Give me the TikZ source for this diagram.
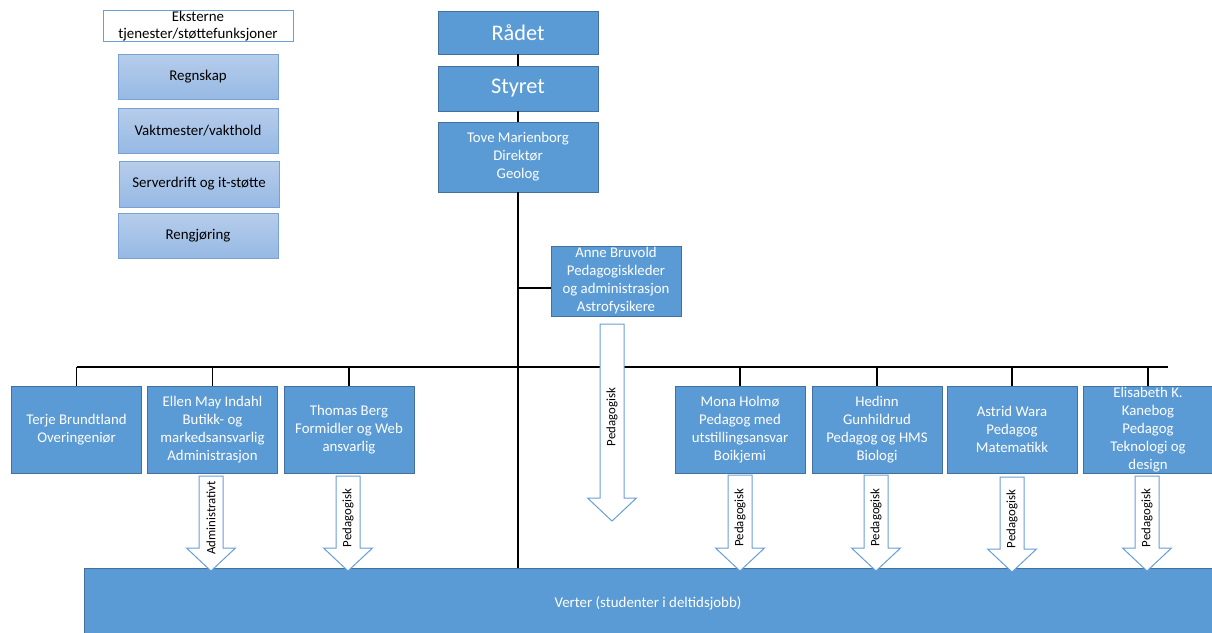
\documentclass[tikz,border=0pt]{standalone}
\usepackage{fontspec}
\setmainfont{Carlito}
\usetikzlibrary{calc}
\definecolor{boxblue}{RGB}{91,155,213}
\definecolor{boxedge}{RGB}{65,113,156}
\definecolor{lightedge}{RGB}{105,158,215}
\definecolor{gradtop}{RGB}{183,205,235}
\definecolor{gradbot}{RGB}{150,185,228}
\definecolor{gradedge}{RGB}{120,162,212}
\tikzset{
  orgbox/.style={draw=boxedge, fill=boxblue, line width=0.8, text=white, align=center,
    inner sep=0, font=\fontsize{14.8}{18}\selectfont},
  bigbox/.style={orgbox, minimum width=160, font=\fontsize{22.3}{26}\selectfont},
  staffbox/.style={orgbox, minimum width=129.5, minimum height=87},
  extbox/.style={draw=gradedge, line width=0.8, top color=gradtop, bottom color=gradbot,
    minimum width=160, minimum height=45, inner sep=0, align=center,
    font=\fontsize{14.9}{18}\selectfont},
  headbox/.style={draw=lightedge, line width=0.8, fill=white, minimum width=190,
    minimum height=30, inner sep=0, align=center, font=\fontsize{14.9}{17.5}\selectfont},
  link/.style={draw=black, line width=1.6},
  blockarrow/.style={draw=lightedge, fill=white, line width=1},
  arrowlabel/.style={rotate=90, inner sep=0, font=\fontsize{12.8}{15}\selectfont}
}
\begin{document}
\begin{tikzpicture}[x=1pt,y=-1pt]
\useasboundingbox (0,0) rectangle (1212,632);

% external services panel
\node[headbox] (ext) at (198,26) {Eksterne\\tjenester/støttefunksjoner};
\node[extbox] (regnskap) at (198,76.5) {Regnskap};
\node[extbox] (vakt) at (198,130.5) {Vaktmester/vakthold};
\node[extbox, minimum height=46] (server) at (199,184) {Serverdrift og it-støtte};
\node[extbox] (reng) at (198,235.5) {Rengjøring};

% top hierarchy
\node[bigbox, minimum height=43] (radet) at (518,32.5) {Rådet};
\node[bigbox, minimum height=45] (styret) at (518,88.5) {Styret};
\node[orgbox, minimum width=160, minimum height=70] (tove) at (518,157)
  {Tove Marienborg\\Direktør\\Geolog};
\node[orgbox, minimum width=130, minimum height=70] (anne) at (616,281)
  {Anne Bruvold\\Pedagogiskleder\\og administrasjon\\Astrofysikere};

% staff row
\node[staffbox] (terje) at (76.5,429.5) {Terje Brundtland\\Overingeniør};
\node[staffbox] (ellen) at (212.5,429.5) {Ellen May Indahl\\Butikk- og\\markedsansvarlig\\Administrasjon};
\node[staffbox, minimum width=130] (thomas) at (349,429.5) {Thomas Berg\\Formidler og Web\\ansvarlig};
\node[staffbox, minimum width=130] (mona) at (740,429.5) {Mona Holmø\\Pedagog med\\utstillingsansvar\\Boikjemi};
\node[staffbox, minimum width=130] (hedinn) at (877,429.5) {Hedinn\\Gunhildrud\\Pedagog og HMS\\Biologi};
\node[staffbox, minimum width=130] (astrid) at (1012,429.5) {Astrid Wara\\Pedagog\\Matematikk};
\node[staffbox, minimum width=130] (elis) at (1148,429.5) {Elisabeth K.\\Kanebog\\Pedagog\\Teknologi og\\design};

% hosts
\node[orgbox, minimum width=1132, minimum height=66] (verter) at (650,601) {};
\node[text=white, inner sep=0, font=\fontsize{14.9}{18}\selectfont] (vertertext) at (648,603.5)
  {Verter (studenter i deltidsjobb)};

% connectors
\draw[link] (radet.south) -- (styret.north);
\draw[link] (styret.south) -- (tove.north);
\draw[link] (tove.south) -- (tove.south |- verter.north);
\coordinate (annein) at ($(anne.west)+(0,7)$);
\draw[link] (annein) -- (tove.south |- annein);
\coordinate (bus) at (0,367);
\coordinate (busR) at (1168,367);
\draw[link] (terje.north |- bus) -- (busR);
\foreach \n in {terje,ellen,thomas,mona,hedinn,astrid,elis}{
  \draw[link] (\n.north) -- (\n.north |- bus);
}

% block arrows
\foreach \n/\cx/\ya/\yb/\lab in {ellen/211/476/571/Administrativt,
  thomas/348/476/571/Pedagogisk, anne/612/324/521/Pedagogisk,
  mona/740/475/571/Pedagogisk, hedinn/876/475/571/Pedagogisk,
  astrid/1012/477/572/Pedagogisk, elis/1147/476/571/Pedagogisk}{
  \draw[blockarrow] (\cx-12,\ya) -- (\cx+12,\ya) -- (\cx+12,\yb-23) -- (\cx+24.5,\yb-23)
    -- (\cx,\yb) -- (\cx-24.5,\yb-23) -- (\cx-12,\yb-23) -- cycle;
  \node[arrowlabel] (lab-\n) at (\cx,{(\ya+\yb)/2-5.5}) {\lab};
}
\end{tikzpicture}
\end{document}
